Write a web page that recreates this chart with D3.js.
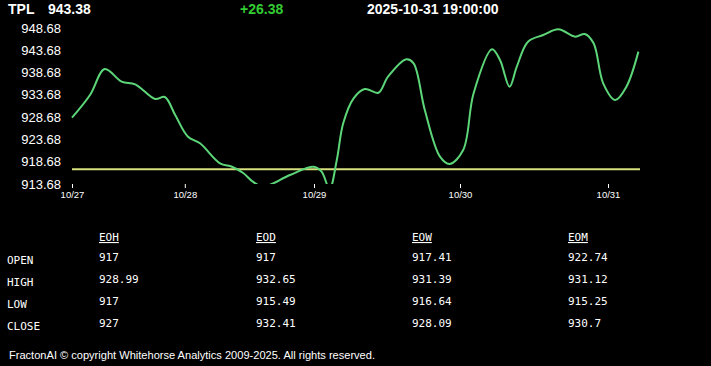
<!DOCTYPE html>
<html>
<head>
<meta charset="utf-8">
<script src="https://cdn.jsdelivr.net/npm/d3@7"></script>
<style>
  html, body { margin: 0; padding: 0; background: #000; }
  svg { display: block; }
</style>
</head>
<body>
<div class="canva"></div>
<script>
// header
const symbol = "TPL"
const lastPrice = "943.38"
const change = "+26.38"
const stamp = "2025-10-31 19:00:00"

// price curve: x is bar index, v is price
const xs = [0, 2.25, 4.1, 6.2, 7.9, 10.4, 11.6, 12.9, 14.5, 16, 18.5, 20, 21.4, 22.6, 23.9, 27.25,
  30.2, 31.2, 32.2, 33.1, 33.9, 35.2, 36.6, 38.3, 39.5, 41.8, 42.7, 44.1, 46, 47.2, 48.9, 50.2,
  52.5, 53.5, 54.7, 55.6, 57.0, 58.9, 60.8, 62.9, 64.1, 65.2, 66.4, 67.9, 69.3, 70.8]
const prices = [928.56, 933.65, 939.48, 936.63, 936.05, 932.75, 933.2, 929.16, 924.29, 922.81, 918.32,
  917.56, 916.15, 914.2, 913.1, 915.7, 917.56, 916.44, 912.6, 919.07, 927.3, 932.91, 935.0, 934.16,
  937.75, 941.66, 940.76, 930.28, 919.81, 918.17, 921.31, 934.03, 943.9, 941.5, 935.51, 940.0,
  945.61, 947.11, 948.39, 946.73, 947.34, 945.25, 936.27, 932.53, 935.51, 943.38]
const openLevel = 917

const yTicks = [913.68, 918.68, 923.68, 928.68, 933.68, 938.68, 943.68, 948.68]
const dayTicks = [0, 14.1, 30.25, 48.5, 67]
const dayLabels = ["10/27", "10/28", "10/29", "10/30", "10/31"]

// table
const colNames = ["EOH", "EOD", "EOW", "EOM"]
const rowNames = ["OPEN", "HIGH", "LOW", "CLOSE"]
const eoh = ["917", "928.99", "917", "927"]
const eod = ["917", "932.65", "915.49", "932.41"]
const eow = ["917.41", "931.39", "916.64", "928.09"]
const eom = ["922.74", "931.12", "915.25", "930.7"]
const footer = "FractonAI \u00a9 copyright Whitehorse Analytics 2009-2025. All rights reserved."

const svg = d3.select('.canva').append("svg")
  .attr("width", 711).attr("height", 366)

svg.append("rect").attr("width", 711).attr("height", 366).attr("fill", "#000")

const x = d3.scaleLinear().domain([0, 71]).range([72, 640])
const y = d3.scaleLinear().domain([913.68, 948.68]).range([184, 28])

// header text
const head = svg.append("g").attr("font-family", "'Liberation Sans', Arial, sans-serif")
  .attr("font-size", 14).attr("font-weight", "bold")
head.append("text").text(symbol).attr("x", 8).attr("y", 14).attr("fill", "#fff")
head.append("text").text(lastPrice).attr("x", 48).attr("y", 14).attr("fill", "#fff")
head.append("text").text(change).attr("x", 240).attr("y", 14).attr("fill", "#33cc33")
head.append("text").text(stamp).attr("x", 367).attr("y", 14).attr("fill", "#fff")

// y labels
svg.append("g").selectAll("text")
  .data(yTicks)
  .enter().append("text")
  .attr("x", 61)
  .attr("y", d => y(d))
  .attr("dy", "0.35em")
  .attr("text-anchor", "end")
  .attr("font-family", "'Liberation Sans', Arial, sans-serif")
  .attr("font-size", 13)
  .attr("fill", "#fff")
  .text(d => d.toFixed(2))

// x axis
const xAxis = d3.axisBottom(x)
  .tickValues(dayTicks)
  .tickFormat((d, i) => dayLabels[i])
  .tickSize(4)
  .tickPadding(3)
const gx = svg.append("g").attr("transform", "translate(0,184)").call(xAxis)
gx.select(".domain").remove()
gx.selectAll("line").attr("stroke", "#fff")
gx.selectAll("text").attr("fill", "#fff")
  .attr("font-family", "'Liberation Sans', Arial, sans-serif").attr("font-size", 9.5)

// open level line
svg.append("line")
  .attr("x1", x(0)).attr("x2", x(71))
  .attr("y1", y(openLevel)).attr("y2", y(openLevel))
  .attr("stroke", "#d6e07c").attr("stroke-width", 2)

// price line
svg.append("clipPath").attr("id", "plot")
  .append("rect").attr("x", 70).attr("y", 0).attr("width", 575).attr("height", 184)

const line = d3.line()
  .x((d, i) => x(xs[i]))
  .y(d => y(d))
  .curve(d3.curveCatmullRom.alpha(0.5))

svg.append("path")
  .datum(prices)
  .attr("d", line)
  .attr("clip-path", "url(#plot)")
  .attr("fill", "none")
  .attr("stroke", "#5cd679")
  .attr("stroke-width", 2)

// table
const mono = "'DejaVu Sans Mono', 'Liberation Mono', monospace"
const colX = [99, 256, 412, 568]
const rowY = [259, 281, 303, 325]
const cols = [eoh, eod, eow, eom]

const tbl = svg.append("g").attr("font-family", mono).attr("font-size", 11).attr("fill", "#fff")

tbl.selectAll(".hdr")
  .data(colNames)
  .enter().append("text")
  .attr("class", "hdr")
  .attr("x", (d, i) => colX[i])
  .attr("y", 241)
  .attr("text-decoration", "underline")
  .text(d => d)

tbl.selectAll(".rowname")
  .data(rowNames)
  .enter().append("text")
  .attr("class", "rowname")
  .attr("x", 7)
  .attr("y", (d, i) => rowY[i] + 5)
  .text(d => d)

cols.forEach((col, c) => {
  tbl.selectAll(".c" + c)
    .data(col)
    .enter().append("text")
    .attr("class", "c" + c)
    .attr("x", colX[c])
    .attr("y", (d, i) => rowY[i] + 2)
    .text(d => d)
})

svg.append("text")
  .text(footer)
  .attr("x", 9).attr("y", 359)
  .attr("font-family", "'Liberation Sans', Arial, sans-serif")
  .attr("font-size", 11)
  .attr("textLength", 366)
  .attr("lengthAdjust", "spacingAndGlyphs")
  .attr("fill", "#fff")
</script>
</body>
</html>
